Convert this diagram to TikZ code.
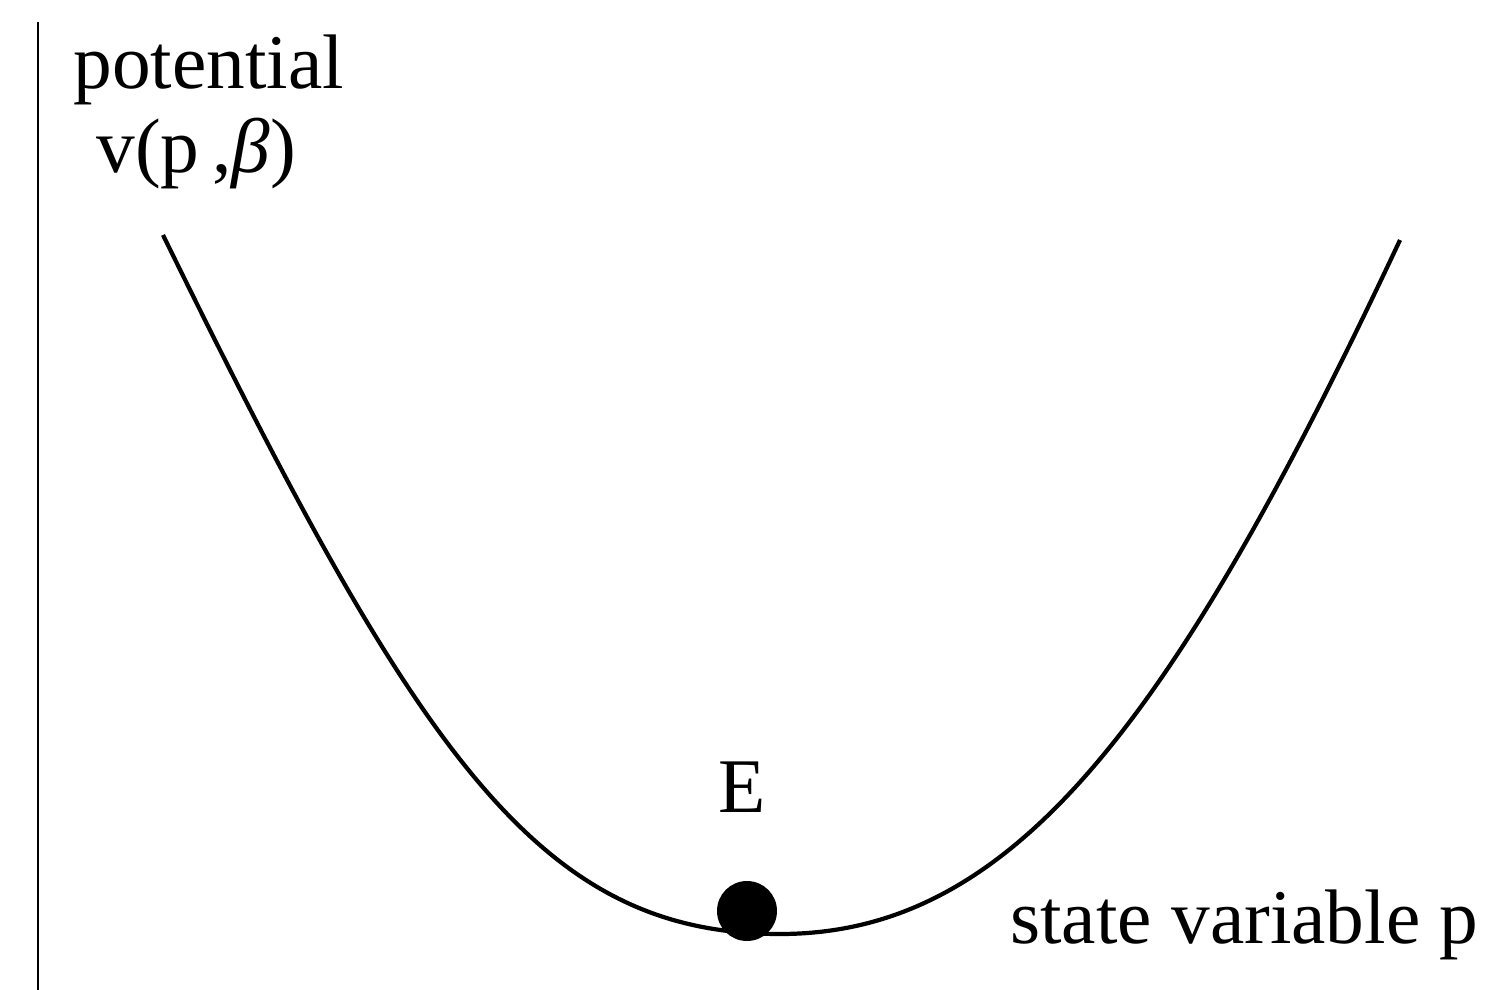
\documentclass[tikz,border=0pt]{standalone}
\usepackage{fontspec}
\setmainfont{Liberation Serif}
\usetikzlibrary{positioning}

\begin{document}
\begin{tikzpicture}[
    x=0.02cm,y=-0.02cm,
    axislabel/.style={font=\fontsize{44}{50}\selectfont,inner sep=0pt,anchor=base west},
    axisline/.style={line width=1.6pt},
    potcurve/.style={line width=2.4pt,line join=round},
    ball/.style={circle,fill=black,inner sep=0pt,minimum size=1.2cm}
  ]
    \useasboundingbox (0,0) rectangle (1505,990);
    % axis and labels
    \coordinate (top) at (38,22);
    \coordinate (bot) at (38,990);
    \draw[axisline] (top)--(bot);
    \node[axislabel] (pot) at (73,89) {potential};
    \node[axislabel] (vfun) at (96,173) {v(p\,,\textit{β})};
    \node[axislabel] (state) at (1010,943) {state variable p};
    % potential well
    \coordinate (lefttop) at (163,235);
    \coordinate (wellmin) at (780,934);
    \coordinate (righttop) at (1400,240);
    \draw[potcurve] (lefttop) .. controls (420,760) and (540,934) .. (wellmin)
      .. controls (1010,934) and (1170,730) .. (righttop);
    % equilibrium
    \node[ball] (eq) at (747,911) {};
    \node[axislabel,anchor=base] (elab) at (742,812) {E};
  \end{tikzpicture}
\end{document}
